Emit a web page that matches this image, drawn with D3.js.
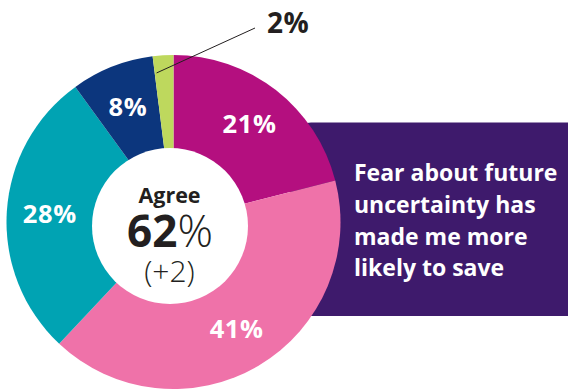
<!DOCTYPE html>
<html>
<head>
<meta charset="utf-8">
<script src="https://cdn.jsdelivr.net/npm/d3@7"></script>
<style>
  html, body { margin: 0; padding: 0; background: #ffffff; }
  svg { display: block; font-family: "Open Sans", Lato, sans-serif; }
</style>
</head>
<body>
<svg id="chart" width="568" height="390"></svg>
<script>
// Survey responses, clockwise from 12 o'clock
const categories = ["Strongly agree", "Tend to agree", "Neither agree nor disagree", "Disagree", "Don't know"];
const values = [21, 41, 28, 8, 2];
const colors = ["#b40f7f", "#ef72a9", "#00a3b3", "#0c367d", "#bed85d"];
const agreeIndex = [0, 1];
const agreeTitle = "Agree";
const agreeChange = "+2";
const statementLines = ["Fear about future", "uncertainty has", "made me more", "likely to save"];

const svg = d3.select("#chart");
const cx = 173.5, cy = 222, R = 167;

// Statement panel, sitting behind the donut
svg.append("rect")
  .attr("x", 290).attr("y", 122.5)
  .attr("width", 300).attr("height", 193.5)
  .attr("rx", 21).attr("ry", 21)
  .attr("fill", "#3e1a6c");

svg.append("g")
  .attr("fill", "#ffffff")
  .attr("font-weight", 700)
  .attr("font-size", 23)
  .selectAll("text")
  .data(statementLines)
  .join("text")
  .attr("x", 354)
  .attr("y", (d, i) => 181 + i * 31.8)
  .text(d => d);

// Pie slices
const pie = d3.pie().sort(null).value(d => d).startAngle(0).endAngle(2 * Math.PI);
const arcs = pie(values);
const arc = d3.arc().innerRadius(0).outerRadius(R);
const labelArc = d3.arc().innerRadius(124).outerRadius(124);

const g = svg.append("g").attr("transform", `translate(${cx},${cy})`);
g.selectAll("path.slice")
  .data(arcs)
  .join("path")
  .attr("class", "slice")
  .attr("d", arc)
  .attr("fill", (d, i) => colors[i]);

// Centre disc
svg.append("circle")
  .attr("cx", 170).attr("cy", 226).attr("r", 78)
  .attr("fill", "#ffffff");

// In-slice percentage labels (the tiny slice is labelled outside)
const small = arcs.filter(d => d.value < 5);
const big = arcs.filter(d => d.value >= 5);
g.selectAll("text.pct")
  .data(big)
  .join("text")
  .attr("class", "pct")
  .attr("transform", d => `translate(${labelArc.centroid(d)})`)
  .attr("text-anchor", "middle")
  .attr("dy", "0.36em")
  .attr("fill", "#ffffff")
  .attr("font-weight", 700)
  .attr("font-size", 25.5)
  .attr("letter-spacing", 0.6)
  .text(d => d.value + "%");

// Outside label with leader line for the small slice
small.forEach(d => {
  const a = d.startAngle + (d.endAngle - d.startAngle) * 0.1;
  const r0 = 150;
  const x0 = Math.sin(a) * r0, y0 = -Math.cos(a) * r0;
  g.append("line")
    .attr("x1", x0).attr("y1", y0)
    .attr("x2", 255 - cx).attr("y2", 28 - cy)
    .attr("stroke", "#231f20")
    .attr("stroke-width", 1);
  g.append("text")
    .attr("x", 267 - cx).attr("y", 33 - cy)
    .attr("fill", "#231f20")
    .attr("font-weight", 700)
    .attr("font-size", 28)
    .attr("letter-spacing", 0.5)
    .text(d.value + "%");
});

// Centre summary
const agreeTotal = d3.sum(agreeIndex, i => values[i]);
const centre = svg.append("g").attr("fill", "#231f20").attr("text-anchor", "middle");
centre.append("text")
  .attr("x", 169.5).attr("y", 202.7)
  .attr("font-weight", 700)
  .attr("font-size", 21.5)
  .text(agreeTitle);
const big62 = centre.append("text")
  .attr("x", 170).attr("y", 246.7)
  .attr("font-size", 44);
big62.append("tspan").attr("font-weight", 700).text(agreeTotal);
big62.append("tspan").attr("font-weight", 300).text("%");
centre.append("text")
  .attr("x", 169.5).attr("y", 282)
  .attr("font-weight", 300)
  .attr("font-size", 30)
  .text(`(${agreeChange})`);
</script>
</body>
</html>
